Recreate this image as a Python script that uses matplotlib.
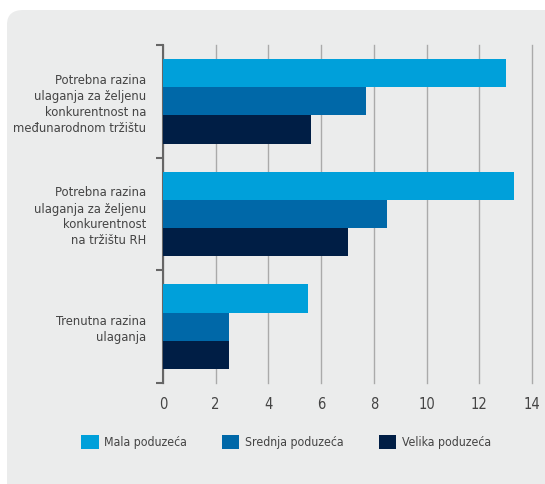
import numpy as np
import matplotlib.pyplot as plt
from matplotlib.patches import FancyBboxPatch

# categories (top to bottom) and series values
categories = [
    "Potrebna razina\nulaganja za željenu\nkonkurentnost na\nmeđunarodnom tržištu",
    "Potrebna razina\nulaganja za željenu\nkonkurentnost\nna tržištu RH",
    "Trenutna razina\nulaganja",
]
series_names = ["Mala poduzeća", "Srednja poduzeća", "Velika poduzeća"]
mala = [13.0, 13.3, 5.5]
srednja = [7.7, 8.5, 2.5]
velika = [5.6, 7.0, 2.5]
colors = ["#00A0DA", "#0068A8", "#001E45"]
x_ticks = [0, 2, 4, 6, 8, 10, 12, 14]

plt.rcParams['font.family'] = ['Liberation Sans Narrow', 'DejaVu Sans']
plt.rcParams['font.stretch'] = 'condensed'

fig = plt.figure(figsize=(5.45, 4.84), dpi=100, facecolor="white")

# light grey rounded panel behind everything
bg = FancyBboxPatch((7 / 545, -0.1), 1.2, 1 - 10 / 484 + 0.1,
                    boxstyle="round,pad=0,rounding_size=0.03",
                    transform=fig.transFigure, facecolor="#EBECEC",
                    edgecolor="none", zorder=-10)
fig.patches.append(bg)

ax = fig.add_axes([163 / 545, 1 - 383 / 484, 369 / 545, 338 / 484])
ax.set_facecolor("none")

y = np.arange(len(categories))
h = 0.25
for i, (vals, name) in enumerate(zip([mala, srednja, velika], series_names)):
    ax.barh(y + (i - 1) * h, vals, height=h, color=colors[i], label=name, zorder=3)

ax.set_xlim(0, 14)
ax.set_ylim(2.5, -0.5)
ax.set_xticks(x_ticks)
ax.set_xticklabels([str(t) for t in x_ticks])
ax.grid(axis="x", color="#AAAAAA", linewidth=1, zorder=1)
for gl in ax.get_xgridlines():
    gl.set_clip_on(False)
ax.tick_params(axis="x", length=0, labelsize=10.5, labelcolor="#444444", pad=10)

ax.set_yticks(y)
ax.set_yticklabels(categories, fontsize=9.3, color="#444444", linespacing=1.3)
ax.tick_params(axis="y", which="major", length=0, pad=12)
ax.set_yticks([-0.5, 0.5, 1.5, 2.5], minor=True)
ax.tick_params(axis="y", which="minor", length=5, width=1.5, color="#666666")

for s in ["top", "right", "bottom"]:
    ax.spines[s].set_visible(False)
ax.spines["left"].set_color("#666666")
ax.spines["left"].set_linewidth(1.5)

leg = fig.legend(loc="center", bbox_to_anchor=(0.525, 1 - 442 / 484), ncol=3,
                 frameon=False, fontsize=8.8, handlelength=1.4, handleheight=1.4,
                 columnspacing=2.9, handletextpad=0.45)
for t in leg.get_texts():
    t.set_color("#444444")

fig.savefig("out.png", dpi=100, facecolor="white")
